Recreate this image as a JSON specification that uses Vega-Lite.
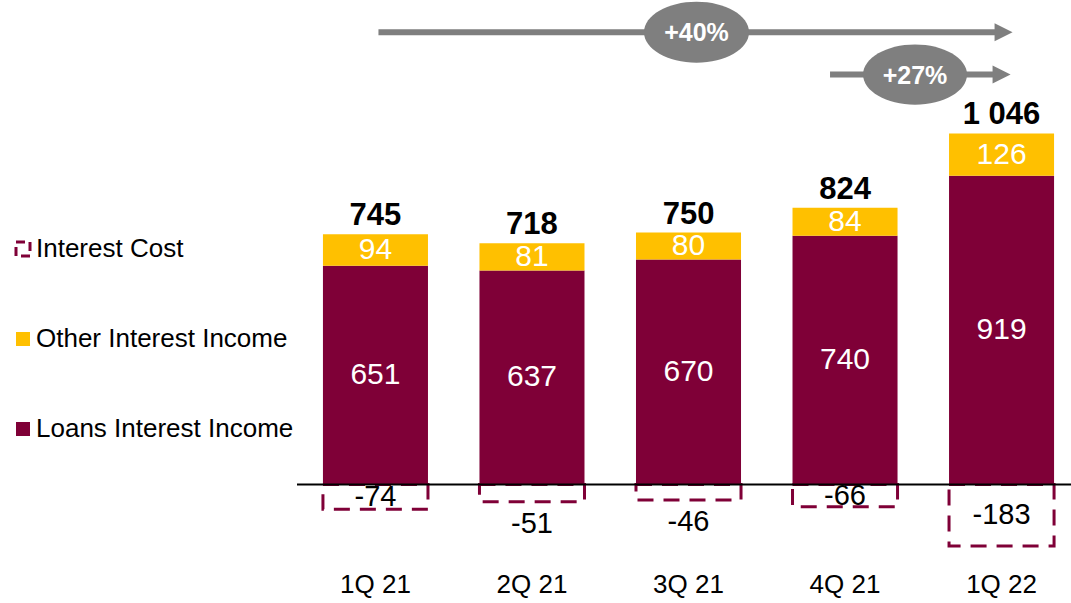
{
  "$schema": "https://vega.github.io/schema/vega-lite/v6.json",
  "autosize": {"type": "none"},
  "padding": {"left": 297, "top": 0, "right": 0, "bottom": 38},
  "width": 774,
  "height": 565,
  "background": "white",
  "datasets": {
    "segments": [
      {"quarter": "1Q 21", "series": "Loans Interest Income", "amount": 651},
      {"quarter": "1Q 21", "series": "Other Interest Income", "amount": 94},
      {"quarter": "1Q 21", "series": "Interest Cost", "amount": -74},
      {"quarter": "2Q 21", "series": "Loans Interest Income", "amount": 637},
      {"quarter": "2Q 21", "series": "Other Interest Income", "amount": 81},
      {"quarter": "2Q 21", "series": "Interest Cost", "amount": -51},
      {"quarter": "3Q 21", "series": "Loans Interest Income", "amount": 670},
      {"quarter": "3Q 21", "series": "Other Interest Income", "amount": 80},
      {"quarter": "3Q 21", "series": "Interest Cost", "amount": -46},
      {"quarter": "4Q 21", "series": "Loans Interest Income", "amount": 740},
      {"quarter": "4Q 21", "series": "Other Interest Income", "amount": 84},
      {"quarter": "4Q 21", "series": "Interest Cost", "amount": -66},
      {"quarter": "1Q 22", "series": "Loans Interest Income", "amount": 919},
      {"quarter": "1Q 22", "series": "Other Interest Income", "amount": 126},
      {"quarter": "1Q 22", "series": "Interest Cost", "amount": -183}
    ],
    "totals": [
      {"quarter": "1Q 21", "total": 745},
      {"quarter": "2Q 21", "total": 718},
      {"quarter": "3Q 21", "total": 750},
      {"quarter": "4Q 21", "total": 824},
      {"quarter": "1Q 22", "total": 1046}
    ]
  },
  "data": {"name": "segments"},
  "layer": [
    {
      "transform": [{"filter": "datum.series !== 'Interest Cost'"}],
      "mark": {"type": "bar"},
      "encoding": {
        "x": {"field": "quarter", "type": "nominal", "title": null, "scale": {"domain": ["1Q 21", "2Q 21", "3Q 21", "4Q 21", "1Q 22"], "paddingInner": 0.329, "paddingOuter": 0.137, "align": 0.605}},
        "y": {"field": "amount", "type": "quantitative", "stack": "zero", "axis": null, "scale": {"domain": [-239.6, 1442], "nice": false, "zero": false}},
        "color": {
          "field": "series", "type": "nominal",
          "scale": {"domain": ["Interest Cost", "Other Interest Income", "Loans Interest Income"], "range": ["#FFFFFF", "#FFC000", "#7F0037"]},
          "legend": {
            "orient": "none", "legendX": -287, "legendY": 236, "title": null, "direction": "vertical",
            "symbolType": "square", "symbolSize": 196, "labelFontSize": 26, "labelFont": "Liberation Sans",
            "labelColor": "black", "labelOffset": 0, "labelLimit": 500, "rowPadding": 64, "padding": 0,
            "encode": {
              "symbols": {
                "update": {
                  "fill": {"signal": "datum.value === 'Interest Cost' ? '#FFFFFF' : (datum.value === 'Other Interest Income' ? '#FFC000' : '#7F0037')"},
                  "stroke": {"signal": "datum.value === 'Interest Cost' ? '#7F0037' : 'transparent'"},
                  "strokeWidth": {"value": 3},
                  "strokeDash": {"signal": "datum.value === 'Interest Cost' ? [9, 5] : [1, 0]"},
                  "opacity": {"value": 1}
                }
              }
            }
          }
        },
        "order": {"field": "series", "sort": "ascending"}
      }
    },
    {
      "transform": [{"filter": "datum.series === 'Interest Cost'"}],
      "mark": {"type": "bar", "fill": "transparent", "stroke": "#7F0037", "strokeWidth": 3, "strokeDash": [16, 10]},
      "encoding": {
        "x": {"field": "quarter", "type": "nominal", "title": null, "scale": {"domain": ["1Q 21", "2Q 21", "3Q 21", "4Q 21", "1Q 22"], "paddingInner": 0.329, "paddingOuter": 0.137, "align": 0.605}},
        "y": {"field": "amount", "type": "quantitative", "stack": null, "scale": {"domain": [-239.6, 1442], "nice": false, "zero": false}}
      }
    },
    {
      "data": {"values": [{}]},
      "mark": {"type": "rule", "color": "black", "strokeWidth": 2},
      "encoding": {
        "y": {"datum": 0, "type": "quantitative", "scale": {"domain": [-239.6, 1442], "nice": false, "zero": false}}
      }
    },
    {
      "transform": [{"filter": "datum.series !== 'Interest Cost'"}],
      "mark": {"type": "text", "color": "white", "fontSize": 30, "baseline": "middle"},
      "encoding": {
        "x": {"field": "quarter", "type": "nominal", "title": null, "scale": {"domain": ["1Q 21", "2Q 21", "3Q 21", "4Q 21", "1Q 22"], "paddingInner": 0.329, "paddingOuter": 0.137, "align": 0.605}},
        "y": {"field": "amount", "type": "quantitative", "stack": "zero", "bandPosition": 0.5, "scale": {"domain": [-239.6, 1442], "nice": false, "zero": false}},
        "detail": {"field": "series", "type": "nominal"},
        "order": {"field": "series", "sort": "ascending"},
        "text": {"field": "amount", "type": "quantitative", "format": "d"}
      }
    },
    {
      "transform": [{"filter": "datum.series === 'Interest Cost' && datum.amount <= -60"}],
      "mark": {"type": "text", "color": "black", "fontSize": 29, "baseline": "middle"},
      "encoding": {
        "x": {"field": "quarter", "type": "nominal", "title": null, "scale": {"domain": ["1Q 21", "2Q 21", "3Q 21", "4Q 21", "1Q 22"], "paddingInner": 0.329, "paddingOuter": 0.137, "align": 0.605}},
        "y": {"field": "amount", "type": "quantitative", "stack": "zero", "bandPosition": 0.5, "scale": {"domain": [-239.6, 1442], "nice": false, "zero": false}},
        "detail": {"field": "series", "type": "nominal"},
        "text": {"field": "amount", "type": "quantitative", "format": "d"}
      }
    },
    {
      "transform": [{"filter": "datum.series === 'Interest Cost' && datum.amount > -60"}],
      "mark": {"type": "text", "color": "black", "fontSize": 29, "baseline": "middle", "dy": 22},
      "encoding": {
        "x": {"field": "quarter", "type": "nominal", "title": null, "scale": {"domain": ["1Q 21", "2Q 21", "3Q 21", "4Q 21", "1Q 22"], "paddingInner": 0.329, "paddingOuter": 0.137, "align": 0.605}},
        "y": {"field": "amount", "type": "quantitative", "stack": null, "scale": {"domain": [-239.6, 1442], "nice": false, "zero": false}},
        "text": {"field": "amount", "type": "quantitative", "format": "d"}
      }
    },
    {
      "data": {"name": "totals"},
      "mark": {"type": "text", "color": "black", "fontSize": 31, "fontWeight": "bold", "baseline": "middle", "dy": -18},
      "encoding": {
        "x": {"field": "quarter", "type": "nominal", "title": null, "scale": {"domain": ["1Q 21", "2Q 21", "3Q 21", "4Q 21", "1Q 22"], "paddingInner": 0.329, "paddingOuter": 0.137, "align": 0.605}},
        "y": {"field": "total", "type": "quantitative", "scale": {"domain": [-239.6, 1442], "nice": false, "zero": false}},
        "text": {"field": "total", "type": "quantitative", "format": ",d"}
      }
    },
    {
      "data": {"values": [{"growth": "+40%"}]},
      "layer": [
        {
          "mark": {"type": "rule", "color": "#7F7F7F", "strokeWidth": 6, "xOffset": 3},
          "encoding": {
            "x": {"datum": "1Q 21", "type": "nominal", "scale": {"domain": ["1Q 21", "2Q 21", "3Q 21", "4Q 21", "1Q 22"], "paddingInner": 0.329, "paddingOuter": 0.137, "align": 0.605}},
            "x2": {"datum": "1Q 22"},
            "y": {"datum": 1346, "type": "quantitative", "scale": {"domain": [-239.6, 1442], "nice": false, "zero": false}}
          }
        },
        {
          "mark": {"type": "point", "shape": "M -1 -1 L 1 0 L -1 1 Z", "size": 324, "filled": true, "color": "#7F7F7F", "opacity": 1, "xOffset": 2},
          "encoding": {
            "x": {"datum": "1Q 22", "type": "nominal", "scale": {"domain": ["1Q 21", "2Q 21", "3Q 21", "4Q 21", "1Q 22"], "paddingInner": 0.329, "paddingOuter": 0.137, "align": 0.605}},
            "y": {"datum": 1346, "type": "quantitative", "scale": {"domain": [-239.6, 1442], "nice": false, "zero": false}}
          }
        },
        {
          "mark": {"type": "point", "shape": "M -1 0 C -1 -0.3203 -0.5523 -0.58 0 -0.58 C 0.5523 -0.58 1 -0.3203 1 0 C 1 0.3203 0.5523 0.58 0 0.58 C -0.5523 0.58 -1 0.3203 -1 0 Z", "size": 11025, "filled": true, "color": "#7F7F7F", "opacity": 1, "xOffset": 8},
          "encoding": {
            "x": {"datum": "3Q 21", "type": "nominal", "scale": {"domain": ["1Q 21", "2Q 21", "3Q 21", "4Q 21", "1Q 22"], "paddingInner": 0.329, "paddingOuter": 0.137, "align": 0.605}},
            "y": {"datum": 1346, "type": "quantitative", "scale": {"domain": [-239.6, 1442], "nice": false, "zero": false}}
          }
        },
        {
          "mark": {"type": "text", "color": "white", "fontSize": 25, "fontWeight": "bold", "baseline": "middle", "xOffset": 8, "dy": 1},
          "encoding": {
            "x": {"datum": "3Q 21", "type": "nominal", "scale": {"domain": ["1Q 21", "2Q 21", "3Q 21", "4Q 21", "1Q 22"], "paddingInner": 0.329, "paddingOuter": 0.137, "align": 0.605}},
            "y": {"datum": 1346, "type": "quantitative", "scale": {"domain": [-239.6, 1442], "nice": false, "zero": false}},
            "text": {"field": "growth", "type": "nominal"}
          }
        }
      ]
    },
    {
      "data": {"values": [{"growth": "+27%"}]},
      "layer": [
        {
          "mark": {"type": "rule", "color": "#7F7F7F", "strokeWidth": 6, "xOffset": -15, "x2Offset": 0},
          "encoding": {
            "x": {"datum": "4Q 21", "type": "nominal", "scale": {"domain": ["1Q 21", "2Q 21", "3Q 21", "4Q 21", "1Q 22"], "paddingInner": 0.329, "paddingOuter": 0.137, "align": 0.605}},
            "x2": {"datum": "1Q 22"},
            "y": {"datum": 1220, "type": "quantitative", "scale": {"domain": [-239.6, 1442], "nice": false, "zero": false}}
          }
        },
        {
          "mark": {"type": "point", "shape": "M -1 -1 L 1 0 L -1 1 Z", "size": 324, "filled": true, "color": "#7F7F7F", "opacity": 1},
          "encoding": {
            "x": {"datum": "1Q 22", "type": "nominal", "scale": {"domain": ["1Q 21", "2Q 21", "3Q 21", "4Q 21", "1Q 22"], "paddingInner": 0.329, "paddingOuter": 0.137, "align": 0.605}},
            "y": {"datum": 1220, "type": "quantitative", "scale": {"domain": [-239.6, 1442], "nice": false, "zero": false}}
          }
        },
        {
          "mark": {"type": "point", "shape": "M -1 0 C -1 -0.3203 -0.5523 -0.58 0 -0.58 C 0.5523 -0.58 1 -0.3203 1 0 C 1 0.3203 0.5523 0.58 0 0.58 C -0.5523 0.58 -1 0.3203 -1 0 Z", "size": 10816, "filled": true, "color": "#7F7F7F", "opacity": 1, "xOffset": 70},
          "encoding": {
            "x": {"datum": "4Q 21", "type": "nominal", "scale": {"domain": ["1Q 21", "2Q 21", "3Q 21", "4Q 21", "1Q 22"], "paddingInner": 0.329, "paddingOuter": 0.137, "align": 0.605}},
            "y": {"datum": 1220, "type": "quantitative", "scale": {"domain": [-239.6, 1442], "nice": false, "zero": false}}
          }
        },
        {
          "mark": {"type": "text", "color": "white", "fontSize": 25, "fontWeight": "bold", "baseline": "middle", "xOffset": 70, "dy": 1},
          "encoding": {
            "x": {"datum": "4Q 21", "type": "nominal", "scale": {"domain": ["1Q 21", "2Q 21", "3Q 21", "4Q 21", "1Q 22"], "paddingInner": 0.329, "paddingOuter": 0.137, "align": 0.605}},
            "y": {"datum": 1220, "type": "quantitative", "scale": {"domain": [-239.6, 1442], "nice": false, "zero": false}},
            "text": {"field": "growth", "type": "nominal"}
          }
        }
      ]
    }
  ],
  "config": {
    "font": "Liberation Sans",
    "view": {"stroke": null},
    "axisX": {"domain": false, "ticks": false, "grid": false, "labelFontSize": 26, "labelColor": "black", "labelPadding": 6, "labelAngle": 0, "labelFont": "Liberation Sans"},
    "locale": {"number": {"decimal": ",", "thousands": " ", "grouping": [3], "currency": ["", ""], "minus": "-"}}
  }
}
